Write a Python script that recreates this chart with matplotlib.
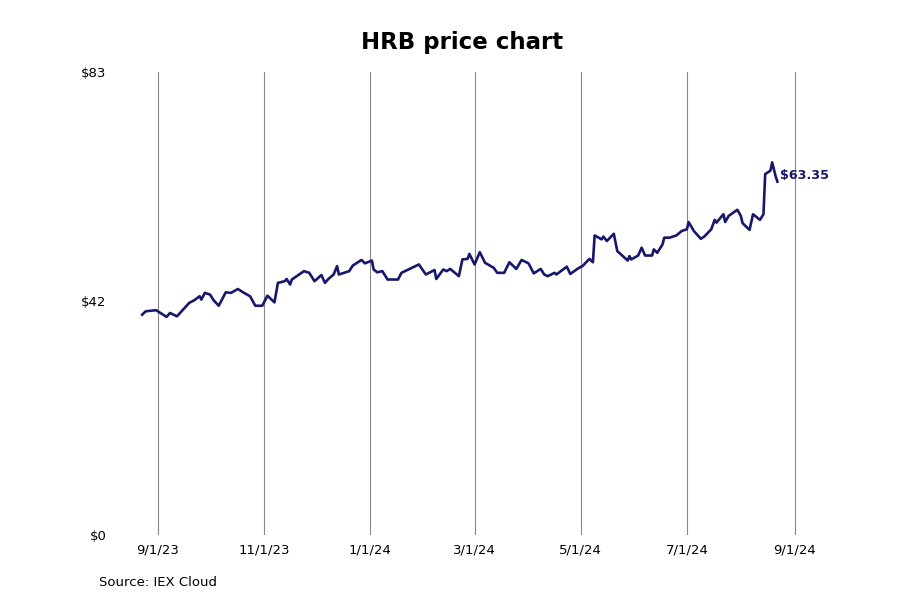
import pandas as pd
import matplotlib.pyplot as plt

# HRB closing prices
dates = [
    "2023-08-23", "2023-08-25", "2023-08-31", "2023-09-06", "2023-09-08", "2023-09-12",
    "2023-09-19", "2023-09-22", "2023-09-25", "2023-09-26", "2023-09-28", "2023-10-01",
    "2023-10-03", "2023-10-06", "2023-10-10", "2023-10-13", "2023-10-17", "2023-10-20",
    "2023-10-24", "2023-10-27", "2023-10-31", "2023-11-03", "2023-11-07", "2023-11-09",
    "2023-11-13", "2023-11-14", "2023-11-16", "2023-11-17", "2023-11-24", "2023-11-27",
    "2023-11-30", "2023-12-04", "2023-12-06", "2023-12-08", "2023-12-11", "2023-12-13",
    "2023-12-14", "2023-12-20", "2023-12-22", "2023-12-27", "2023-12-29", "2024-01-02",
    "2024-01-03", "2024-01-05", "2024-01-08", "2024-01-11", "2024-01-17", "2024-01-19",
    "2024-01-23", "2024-01-25", "2024-01-29", "2024-02-02", "2024-02-07", "2024-02-08",
    "2024-02-12", "2024-02-14", "2024-02-16", "2024-02-21", "2024-02-23", "2024-02-26",
    "2024-02-27", "2024-03-01", "2024-03-04", "2024-03-07", "2024-03-12", "2024-03-14",
    "2024-03-18", "2024-03-21", "2024-03-25", "2024-03-28", "2024-04-01", "2024-04-04",
    "2024-04-08", "2024-04-10", "2024-04-12", "2024-04-16", "2024-04-17", "2024-04-23",
    "2024-04-25", "2024-04-30", "2024-05-02", "2024-05-06", "2024-05-08", "2024-05-09",
    "2024-05-13", "2024-05-14", "2024-05-16", "2024-05-20", "2024-05-22", "2024-05-28",
    "2024-05-29", "2024-05-30", "2024-06-03", "2024-06-05", "2024-06-07", "2024-06-11",
    "2024-06-12", "2024-06-14", "2024-06-17", "2024-06-18", "2024-06-21", "2024-06-25",
    "2024-06-28", "2024-07-01", "2024-07-02", "2024-07-05", "2024-07-09", "2024-07-11",
    "2024-07-15", "2024-07-17", "2024-07-18", "2024-07-22", "2024-07-23", "2024-07-25",
    "2024-07-30", "2024-08-01", "2024-08-02", "2024-08-06", "2024-08-08", "2024-08-12",
    "2024-08-14", "2024-08-15", "2024-08-18", "2024-08-19", "2024-08-21", "2024-08-22",
]
prices = [
    39.5, 40.1, 40.3, 39.1, 39.8, 39.2,
    41.6, 42.1, 42.8, 42.2, 43.4, 43.1,
    42.1, 41.1, 43.5, 43.4, 44.1, 43.5,
    42.8, 41.1, 41.1, 42.9, 41.7, 45.2,
    45.5, 45.9, 44.9, 45.8, 47.3, 47.0,
    45.5, 46.6, 45.2, 45.9, 46.7, 48.2,
    46.7, 47.3, 48.3, 49.3, 48.7, 49.2,
    47.6, 47.1, 47.3, 45.8, 45.8, 47.0,
    47.6, 47.9, 48.5, 46.7, 47.5, 45.9,
    47.6, 47.3, 47.7, 46.4, 49.4, 49.5,
    50.4, 48.5, 50.7, 48.8, 47.9, 47.0,
    47.0, 48.9, 47.7, 49.3, 48.7, 46.9,
    47.7, 46.7, 46.4, 47.0, 46.7, 48.1,
    46.8, 47.9, 48.2, 49.5, 48.9, 53.7,
    53.0, 53.5, 52.7, 54.0, 50.9, 49.2,
    50.0, 49.4, 50.1, 51.5, 50.1, 50.1,
    51.2, 50.6, 52.1, 53.3, 53.3, 53.7,
    54.5, 54.8, 56.1, 54.5, 53.1, 53.5,
    54.8, 56.5, 56.0, 57.5, 56.1, 57.2,
    58.3, 57.2, 55.9, 54.7, 57.5, 56.5,
    57.5, 64.7, 65.3, 66.8, 64.3, 63.35,
]
tick_dates = ["2023-09-01", "2023-11-01", "2024-01-01", "2024-03-01",
              "2024-05-01", "2024-07-01", "2024-09-01"]
tick_labels = ["9/1/23", "11/1/23", "1/1/24", "3/1/24", "5/1/24", "7/1/24", "9/1/24"]
y_ticks = [0, 42, 83]
y_labels = ["$0", "$42", "$83"]

x = pd.to_datetime(dates)
line_color = "#17176b"

fig = plt.figure(figsize=(9, 6), dpi=100)
ax = fig.add_axes([130 / 900, 65 / 600, 670 / 900, 463 / 600])

ax.plot(x, prices, color=line_color, linewidth=1.9)
ax.annotate("$" + format(prices[-1], ".2f"), (x[-1], prices[-1]),
            xytext=(2, 0), textcoords="offset points", color=line_color,
            fontsize=9.2, fontweight="bold", va="bottom", ha="left")

ax.set_xlim(pd.Timestamp("2023-08-16"), pd.Timestamp("2024-09-04"))
ax.set_ylim(0, 83)
ax.set_xticks(pd.to_datetime(tick_dates))
ax.set_xticklabels(tick_labels)
ax.set_yticks(y_ticks)
ax.set_yticklabels(y_labels)
ax.grid(axis="x", color="#888888", linewidth=0.8)
ax.tick_params(axis="both", length=0, labelsize=9.5, pad=6)
ax.tick_params(axis="y", pad=17)
for s in ax.spines.values():
    s.set_visible(False)

fig.text(462 / 900, 558 / 600, "HRB price chart", ha="center", va="center",
         fontsize=16.5, fontweight="bold")
fig.text(99 / 900, 18 / 600, "Source: IEX Cloud", ha="left", va="center", fontsize=9.5)

fig.savefig("out.png", dpi=100)
